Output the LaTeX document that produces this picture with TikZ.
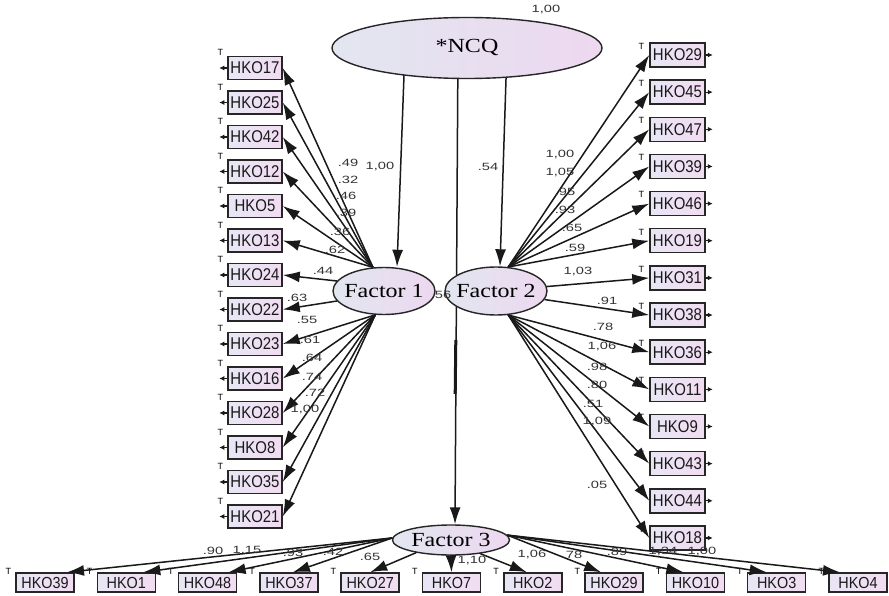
\documentclass[tikz,border=0pt]{standalone}
\usepackage{fontspec}
\setmainfont{Liberation Serif}
\newfontfamily\lsans{Liberation Sans}
\usetikzlibrary{arrows.meta,backgrounds,shapes.geometric}
\definecolor{ncqL}{HTML}{E2E6F0}
\definecolor{ncqR}{HTML}{EDD8F0}
\definecolor{boxL}{HTML}{E8E6F5}
\definecolor{boxR}{HTML}{F2DCF2}
\newcommand{\wide}[2][1.2]{\scalebox{#1}[1]{#2}}
\tikzset{
  lat/.style={ellipse, draw=black!85, line width=1.4pt, left color=ncqL, right color=ncqR, inner sep=0pt,
    font=\fontsize{20}{20}\selectfont},
  obs/.style={rectangle, draw=black!85, line width=1.5pt, left color=boxL, right color=boxR, inner sep=0pt,
    minimum width=54pt, minimum height=23pt, font=\lsans\fontsize{17}{17}\selectfont, text=black!90},
  conn/.style={line width=1.5pt, draw=black!90, -{Latex[length=17pt,width=11pt]}},
  stub/.style={line width=1.2pt, draw=black!90, -{Latex[length=5pt,width=5pt]}},
  num/.style={font=\lsans\fontsize{10.5}{11}\selectfont, text=black!80, inner sep=0pt},
  tmark/.style={font=\lsans\fontsize{9}{9}\selectfont, inner sep=0pt},
}
\begin{document}
\begin{tikzpicture}[x=1pt,y=-1pt]
\useasboundingbox (0,0) rectangle (889,596);

% latent variables
\node[lat, minimum width=270pt, minimum height=61pt] (NCQ) at (467,48) {\wide{*NCQ}};
\node[lat, inner sep=-4pt, minimum width=102pt, minimum height=47pt] (F1) at (384,291) {\wide{Factor 1}};
\node[lat, inner sep=-4pt, minimum width=102pt, minimum height=48pt] (F2) at (496,291) {\wide{Factor 2}};
\node[lat, inner sep=-2pt, minimum width=117pt, minimum height=30pt] (F3) at (451,540) {\wide{Factor 3}};

% left column
\foreach \lab [count=\i from 0] in {HKO17,HKO25,HKO42,HKO12,HKO5,HKO13,HKO24,HKO22,HKO23,HKO16,HKO28,HKO8,HKO35,HKO21}{
  \node[obs] (L\i) at (255,68+34.5*\i) {\wide[0.88]{\lab}};
  \node[tmark] (LT\i) at ([xshift=-7pt,yshift=3pt]L\i.north west) {T};
  \draw[stub] (L\i.west) -- ([xshift=-8pt]L\i.west);
}
% right column
\foreach \lab [count=\i from 0] in {HKO29,HKO45,HKO47,HKO39,HKO46,HKO19,HKO31,HKO38,HKO36,HKO11,HKO9,HKO43,HKO44,HKO18}{
  \node[obs, minimum width=55pt, minimum height=24pt] (R\i) at (677.5,55+37.15*\i) {\wide[0.88]{\lab}};
  \node[tmark] (RT\i) at ([xshift=-8pt,yshift=-4pt]R\i.north west) {T};
  \draw[stub] (R\i.east) -- ([xshift=7pt]R\i.east);
}
% bottom row
\foreach \lab [count=\i from 0] in {HKO39,HKO1,HKO48,HKO37,HKO27,HKO7,HKO2,HKO29,HKO10,HKO3,HKO4}{
  \node[obs, minimum width=58pt, minimum height=19pt, font=\lsans\fontsize{16}{16}\selectfont] (B\i) at (45+81.3*\i,582.5) {\wide[0.9]{\lab}};
  \node[tmark] (BT\i) at ([xshift=-7pt,yshift=1pt]B\i.north west) {T};
}

% background: white page and the paths out of NCQ
\begin{scope}[on background layer]
  \fill[white] (0,0) rectangle (889,596);
  \draw[conn] ([xshift=-62pt]NCQ.center) -- ([xshift=13pt]F1.north);
  \draw[conn] ([xshift=-9pt]NCQ.center) -- ([xshift=4pt]F3.north);
  \draw[conn] ([xshift=40pt]NCQ.center) -- ([xshift=4pt]F2.north);
\end{scope}
\coordinate (g1) at (455.8,340);
\coordinate (g2) at (455.2,394);
\draw[line width=3pt, black!90] (g1) -- (g2);

% Factor 1 loadings
\foreach \i in {0,...,5}{\draw[conn] (F1.115) -- (L\i.east);}
\draw[conn] (F1.168) -- (L6.east);
\draw[conn] (F1.192) -- (L7.east);
\foreach \i in {8,...,13}{\draw[conn] (F1.250) -- (L\i.east);}

% Factor 2 loadings
\foreach \i in {0,...,5}{\draw[conn] (F2.63) -- (R\i.west);}
\draw[conn] (F2.5) -- (R6.west);
\draw[conn] (F2.-10) -- (R7.west);
\foreach \i in {8,...,13}{\draw[conn] (F2.-63) -- (R\i.west);}

% Factor 3 loadings
\foreach \i/\dx in {0/22,1/17,2/21,3/4}{\draw[conn] (F3.178) -- ([xshift=\dx pt]B\i.north);}
\draw[conn] (F3.200) -- (B4.north);
\draw[conn] (F3.south) -- (B5.north);
\draw[conn] (F3.-25) -- ([xshift=-6pt]B6.north);
\foreach \i/\dx in {7/-13,8/-12,9/-10,10/-18}{\draw[conn] (F3.5) -- ([xshift=\dx pt]B\i.north);}

% estimates
\foreach \x/\y/\t [count=\k] in {
  546/10/{1,00}, 380/167/{1,00}, 488/167/.54, 441/295/.56,
  348/163/.49, 348/180/.32, 346/196/.46, 346/213/.39, 340/232/.36, 335/250/.62,
  323/271/.44, 297/298/.63, 307/320/.55, 310/340/.61, 312/358/.64, 312/377/.74,
  315/393/.72, 305/410/{1,00},
  560/155/{1,00}, 560/173/{1,05}, 565/192/.95, 565/210/.93, 572/228/.65, 575/248/.59,
  578/272/{1,03}, 607/301/.91, 603/327/.78, 602/347/{1,06}, 597/367/.98, 597/385/.80,
  593/404/.51, 597/422/{1,09}, 597/485/.05,
  213/551/.90, 247/551/{1,15}, 293/553/.93, 333/552/.42, 370/557/.65, 472/561/{1,10},
  532/555/{1,06}, 572/555/.78, 617/552/.89, 663/552/{1,34}, 702/552/{1,00}}{
  \node[num] (e\k) at (\x,\y) {\wide[1.4]{\t}};
}
\end{tikzpicture}
\end{document}
